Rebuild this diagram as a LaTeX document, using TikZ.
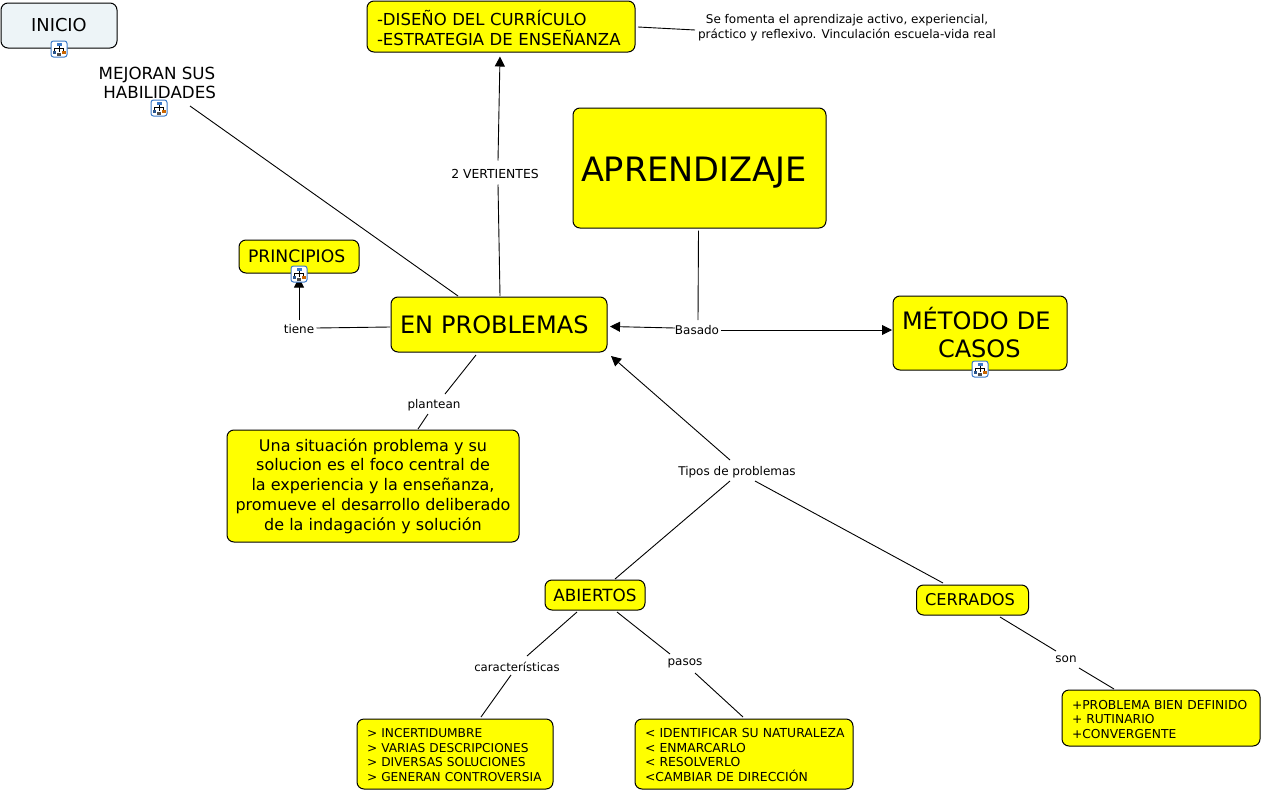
\documentclass[tikz,border=0pt]{standalone}
\usepackage{fontspec}
\setmainfont{DejaVu Sans}
\usetikzlibrary{arrows.meta}
\definecolor{iblue}{HTML}{3A78C8}
\definecolor{inicio}{HTML}{EDF4F7}
\definecolor{ybox}{RGB}{255,255,0}
\tikzset{
  x=1pt,y=-1pt,
  fbox/.style={draw=black,line width=1pt,rounded corners=7pt,fill=ybox,inner sep=0pt,align=center},
  lab/.style={inner sep=0pt,font=\fontsize{12}{15}\selectfont,align=center},
  conn/.style={draw=black,line width=0.9pt},
  arr/.style={conn,-{Triangle[length=10pt,width=10pt]}},
  orgicon/.pic={
    \draw[iblue,line width=1pt,rounded corners=2.5pt,fill=white] (-8,-8) rectangle (8,8);
    \draw[black,line width=.6pt] (0,-4)--(0,3) (-4.5,4)--(-4.5,-0.5)--(4.5,-0.5)--(4.5,4);
    \fill[iblue] (-2.5,-6.5) rectangle (2.5,-3.5);
    \fill[iblue!70!black] (-6.5,1.5) rectangle (-3,4.5);
    \fill[orange!80!black] (3,1.5) rectangle (6.5,4.5);
    \fill[black!70] (-2,3.5) rectangle (2,6.5);
  }
}
\begin{document}
\begin{tikzpicture}
\path[use as bounding box,fill=white] (0,0) rectangle (1262,790);
% boxes
\node[fbox,fill=inicio,minimum width=116pt,minimum height=45pt,font=\fontsize{17.8}{21}\selectfont] (inicio) at (59,25.5) {INICIO};
\node[lab,font=\fontsize{16.7}{19}\selectfont] (mejoran) at (157,83) {MEJORAN SUS\\\ HABILIDADES};
\node[fbox,minimum width=268pt,minimum height=51pt,text width=248pt,align=left,font=\fontsize{16.5}{20}\selectfont] (diseno) at (501,26.5) {\rule{0pt}{19pt}-DISEÑO DEL CURRÍCULO\\-ESTRATEGIA DE ENSEÑANZA};
\node[lab] (nota) at (847,27.5) {Se fomenta el aprendizaje activo, experiencial,\\práctico y reflexivo. Vinculación escuela-vida real};
\node[fbox,minimum width=253pt,minimum height=120pt,text width=237pt,align=left,font=\fontsize{33.6}{38}\selectfont] (apr) at (699.5,168) {\rule{0pt}{33pt}APRENDIZAJE};
\node[fbox,minimum width=120pt,minimum height=33pt,text width=102pt,align=left,font=\fontsize{17.2}{19}\selectfont] (princ) at (299,256.5) {PRINCIPIOS};
\node[fbox,minimum width=216pt,minimum height=55pt,text width=198pt,align=left,font=\fontsize{24}{29}\selectfont] (en) at (499,324.5) {EN PROBLEMAS};
\node[fbox,minimum width=174pt,minimum height=74pt,text width=156pt,align=left,font=\fontsize{24}{28}\selectfont] (metodo) at (980,333) {MÉTODO DE\\\hspace*{36pt}CASOS};
\node[fbox,minimum width=292pt,minimum height=112pt,font=\fontsize{16}{19.8}\selectfont] (sit) at (373,486) {Una situación problema y su\\solucion es el foco central de\\la experiencia y la enseñanza,\\promueve el desarrollo deliberado\\de la indagación y solución};
\node[fbox,minimum width=100pt,minimum height=30pt,font=\fontsize{16.8}{19}\selectfont] (abiertos) at (595,595) {ABIERTOS};
\node[fbox,minimum width=112pt,minimum height=30pt,text width=94pt,align=left,font=\fontsize{16.2}{19}\selectfont] (cerrados) at (972.5,600) {\hspace*{-0.5pt}CERRADOS};
\node[fbox,minimum width=196pt,minimum height=70pt,text width=176pt,align=left,font=\fontsize{12.2}{14.5}\selectfont] (inc) at (455,754) {\rule{0pt}{11.5pt}> INCERTIDUMBRE\\> VARIAS DESCRIPCIONES\\> DIVERSAS SOLUCIONES\\> GENERAN CONTROVERSIA};
\node[fbox,minimum width=218pt,minimum height=70pt,text width=198pt,align=left,font=\fontsize{12.4}{14.5}\selectfont] (iden) at (744,754) {\rule{0pt}{11.5pt}\mbox{< IDENTIFICAR SU NATURALEZA}\\< ENMARCARLO\\< RESOLVERLO\\<CAMBIAR DE DIRECCIÓN};
\node[fbox,minimum width=198pt,minimum height=56pt,text width=178pt,align=left,font=\fontsize{12.3}{14.5}\selectfont] (prob) at (1161,718) {\rule{0pt}{11.5pt}+PROBLEMA BIEN DEFINIDO\\+ RUTINARIO\\+CONVERGENTE};
% labels
\node[lab,font=\fontsize{12.4}{15}\selectfont] (vert) at (495,173.5) {2 VERTIENTES};
\node[lab] (tiene) at (299,329) {tiene};
\node[lab] (basado) at (697,330) {Basado};
\node[lab] (plantean) at (434,405) {plantean};
\node[lab] (tipos) at (737,472) {Tipos de problemas};
\node[lab,font=\fontsize{11.7}{15}\selectfont] (carac) at (517,666.5) {características};
\node[lab] (pasos) at (685,663.5) {pasos};
\node[lab] (son) at (1066,659.5) {son};
% connectors
\draw[conn] ([shift={(33,23)}]mejoran.center) -- ([shift={(-41,-28.5)}]en.center);
\draw[conn] ([shift={(1,-28.5)}]en.center) -- ([shift={(3,11)}]vert.center);
\draw[arr] ([shift={(3,-13)}]vert.center) -- ([shift={(-1,30)}]diseno.center);
\draw[arr] ([shift={(0,-9)}]tiene.center) -- ([shift={(0,21)}]princ.center);
\draw[conn] ([shift={(17.5,-1)}]tiene.center) -- ([shift={(-109,2.5)}]en.center);
\draw[conn] ([shift={(-1,2)}]apr.south) -- ([shift={(1,-10)}]basado.center);
\draw[arr] ([shift={(-22,-2)}]basado.center) -- ([shift={(111,2)}]en.center);
\draw[arr] ([shift={(24,0)}]basado.center) -- ([shift={(-88,-3)}]metodo.center);
\draw[conn] ([shift={(-23,30.5)}]en.center) -- ([shift={(11,-11)}]plantean.center);
\draw[conn] ([shift={(-6,9)}]plantean.center) -- ([shift={(45,-57)}]sit.center);
\draw[arr] ([shift={(-7,-12)}]tipos.center) -- ([shift={(112,31.5)}]en.center);
\draw[conn] ([shift={(-7,9)}]tipos.center) -- ([shift={(20,-16)}]abiertos.center);
\draw[conn] ([shift={(18,9)}]tipos.center) -- ([shift={(-29.5,-17)}]cerrados.center);
\draw[conn] ([shift={(-18,17)}]abiertos.center) -- ([shift={(10,-10.5)}]carac.center);
\draw[conn] ([shift={(-6,8.5)}]carac.center) -- ([shift={(26,-37)}]inc.center);
\draw[conn] ([shift={(22,17)}]abiertos.center) -- ([shift={(-15,-9.5)}]pasos.center);
\draw[conn] ([shift={(10,9.5)}]pasos.center) -- ([shift={(-1,-37)}]iden.center);
\draw[conn] ([shift={(27.5,17)}]cerrados.center) -- ([shift={(-10,-8.5)}]son.center);
\draw[conn] ([shift={(13,8.5)}]son.center) -- ([shift={(-47,-29)}]prob.center);
\draw[conn] ([shift={(137,0.5)}]diseno.center) -- ([shift={(-152,2.5)}]nota.center);
% icons
\pic at ([shift={(0,23.5)}]inicio.center) {orgicon};
\pic at ([shift={(2,25)}]mejoran.center) {orgicon};
\pic at ([shift={(0,17.5)}]princ.center) {orgicon};
\pic at ([shift={(0,36)}]metodo.center) {orgicon};
\end{tikzpicture}
\end{document}
